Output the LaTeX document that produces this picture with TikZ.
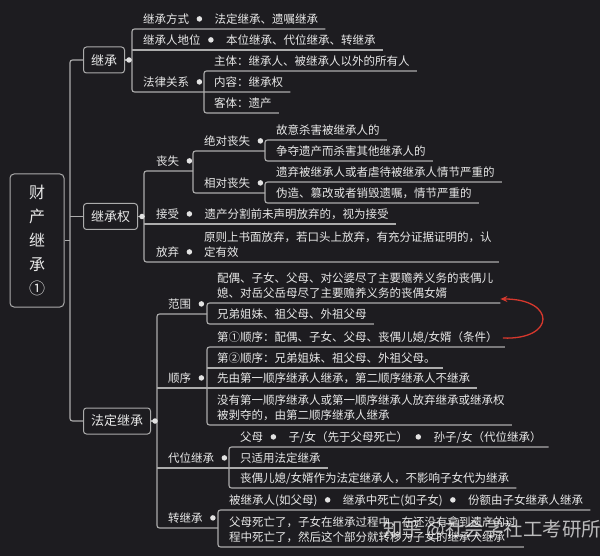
\documentclass[tikz,border=0pt]{standalone}
\usepackage{fontspec}
\setmainfont{Noto Sans CJK SC}
\usetikzlibrary{arrows.meta}
\definecolor{bgc}{RGB}{29,28,32}
\definecolor{linec}{RGB}{172,172,172}
\definecolor{txtc}{RGB}{232,232,232}
\definecolor{dotc}{RGB}{226,226,226}
\definecolor{arrowred}{RGB}{214,56,45}

\begin{document}
\begin{tikzpicture}[x=1pt, y=-1pt,
	conn/.style={draw=linec, line width=1.1pt},
	elbow/.style={conn, rounded corners=2.5pt},
	topic/.style={draw=linec, line width=1pt, rounded corners=3pt, fill=bgc, text=txtc,
		font=\fontsize{13}{15}\selectfont, inner xsep=7.5pt, minimum height=26pt, anchor=west},
	leaf/.style={anchor=south west, inner xsep=0pt, inner ysep=3pt, text height=9pt,
		text depth=2.5pt, text=txtc, font=\fontsize{11.5}{15}\selectfont},
	leaftwo/.style={anchor=south west, inner xsep=0pt, inner ysep=3pt, text depth=2.5pt,
		align=left, text=txtc, font=\fontsize{11.5}{15}\selectfont},
	dot/.style={circle, fill=dotc, inner sep=0pt, minimum size=5.5pt}]
	\fill[bgc] (0,0) rectangle (600,556);
	\useasboundingbox (0,0) rectangle (600,556);

	\node[draw=linec, line width=1pt, rounded corners=4pt, fill=bgc, text=txtc,
		minimum width=54pt, minimum height=133pt, align=center,
		font=\fontsize{16}{24.2}\selectfont] (root) at (37,240.5) {财\\产\\继\\承\\①};
	\node[topic] (jc) at (83,60) {继承};
	\node[topic] (jcq) at (83,216.5) {继承权};
	\node[topic] (fd) at (83,421) {法定继承};

	\node[leaf] (fs) at (143,29) {继承方式};
	\node[leaf] (fs1) at ([xshift=25pt]fs.south east) {法定继承、遗嘱继承};
	\node[leaf] (rdw) at (143,50) {继承人地位};
	\node[leaf] (rdw1) at ([xshift=25pt]rdw.south east) {本位继承、代位继承、转继承};
	\node[leaf] (fl) at (143,92) {法律关系};
	\node[leaf] (fl1) at (214,71) {主体：继承人、被继承人以外的所有人};
	\node[leaf] (fl2) at (214,92) {内容：继承权};
	\node[leaf] (fl3) at (214,113) {客体：遗产};

	\node[leaf] (ss) at (156,171) {丧失};
	\node[leaf] (jd) at (204,151) {绝对丧失};
	\node[leaf] (jd1) at (276,140) {故意杀害被继承人的};
	\node[leaf] (jd2) at (276,161) {争夺遗产而杀害其他继承人的};
	\node[leaf] (xd) at (204,193) {相对丧失};
	\node[leaf] (xd1) at (276,182) {遗弃被继承人或者虐待被继承人情节严重的};
	\node[leaf] (xd2) at (276,203) {伪造、篡改或者销毁遗嘱，情节严重的};
	\node[leaf] (js) at (156,224) {接受};
	\node[leaf] (js1) at ([xshift=25pt]js.south east) {遗产分割前未声明放弃的，视为接受};
	\node[leaf] (fq) at (156,262) {放弃};
	\node[leaftwo] (fq1) at (204,262) {原则上书面放弃，若口头上放弃，有充分证据证明的，认\\定有效};

	\node[leaf] (fw) at (168,314) {范围};
	\node[leaftwo] (fw1) at (217,303) {配偶、子女、父母、对公婆尽了主要赡养义务的丧偶儿\\媳、对岳父岳母尽了主要赡养义务的丧偶女婿};
	\node[leaf] (fw2) at (217,324) {兄弟姐妹、祖父母、外祖父母};
	\node[leaf] (sx) at (168,388) {顺序};
	\node[leaf] (sx1) at (217,347) {第①顺序：配偶、子女、父母、丧偶儿媳/女婿（条件）};
	\node[leaf] (sx2) at (217,368) {第②顺序：兄弟姐妹、祖父母、外祖父母。};
	\node[leaf] (sx3) at (217,388) {先由第一顺序继承人继承，第二顺序继承人不继承};
	\node[leaftwo] (sx4) at (217,425) {没有第一顺序继承人或第一顺序继承人放弃继承或继承权\\被剥夺的，由第二顺序继承人继承};
	\node[leaf] (dw) at (168,468) {代位继承};
	\node[leaf] (dw1) at (240,447) {父母};
	\node[leaf] (dw2) at ([xshift=25pt]dw1.south east) {子/女（先于父母死亡）};
	\node[leaf] (dw3) at ([xshift=25pt]dw2.south east) {孙子/女（代位继承）};
	\node[leaf] (dw4) at (240,468) {只适用法定继承};
	\node[leaf] (dw5) at (240,488) {丧偶儿媳/女婿作为法定继承人，不影响子女代为继承};
	\node[leaf] (zj) at (168,528) {转继承};
	\node[leaf] (zj1) at (229,510) {被继承人(如父母)};
	\node[leaf] (zj2) at ([xshift=25pt]zj1.south east) {继承中死亡(如子女)};
	\node[leaf] (zj3) at ([xshift=25pt]zj2.south east) {份额由子女继承人继承};
	\node[leaftwo] (zj4) at (229,547) {父母死亡了，子女在继承过程中，在还没有拿到遗产的过\\程中死亡了，然后这个部分就转移为子女的继承人继承};

	\draw[conn] (root.east) -- (70,240.5);
	\draw[elbow] (jc.west) -- (70,60) -- (70,421) -- (fd.west);
	\draw[conn] (70,216.5) -- (jcq.west);

	\draw[conn] (jc.east) -- (132,60);
	\draw[elbow] ([xshift=7pt]fs1.south east) -- (132,29) -- (132,92) -- ([xshift=7pt]fl2.south east);
	\draw[conn] (132,50) -- ([xshift=7pt]rdw1.south east);
	\draw[elbow] ([xshift=7pt]fl1.south east) -- (204,71) -- (204,113) -- ([xshift=7pt]fl3.south east);

	\draw[conn] (jcq.east) -- (144,216.5);
	\draw[elbow] (193,171) -- (144,171) -- (144,262) -- ([xshift=7pt]fq1.south east);
	\draw[conn] (144,224) -- ([xshift=7pt]js1.south east);
	\draw[elbow] (265,151) -- (193,151) -- (193,193) -- (265,193);
	\draw[elbow] ([xshift=7pt]jd1.south east) -- (265,140) -- (265,161) -- ([xshift=7pt]jd2.south east);
	\draw[elbow] ([xshift=7pt]xd1.south east) -- (265,182) -- (265,203) -- ([xshift=7pt]xd2.south east);

	\draw[conn] (fd.east) -- (157,421);
	\draw[elbow] (207,314) -- (157,314) -- (157,528) -- (218,528);
	\draw[conn] (157,388) -- (207,388);
	\draw[conn] (157,468) -- (229,468);
	\draw[elbow] ([xshift=7pt]fw1.south east) -- (207,303) -- (207,324) -- ([xshift=7pt]fw2.south east);
	\draw[elbow] ([xshift=7pt]sx1.south east) -- (207,347) -- (207,425) -- ([xshift=7pt]sx4.south east);
	\draw[conn] (207,368) -- ([xshift=7pt]sx2.south east);
	\draw[conn] (207,388) -- ([xshift=7pt]sx3.south east);
	\draw[elbow] ([xshift=7pt]dw3.south east) -- (229,447) -- (229,488) -- ([xshift=7pt]dw5.south east);
	\draw[conn] (229,468) -- ([xshift=7pt]dw4.south east);
	\draw[elbow] ([xshift=7pt]zj3.south east) -- (218,510) -- (218,547) -- ([xshift=7pt]zj4.south east);

	\foreach \n in {jc,jcq,fd}
		\node[dot] at ([xshift=4pt]\n.east) {};
	\foreach \n in {fs,rdw,fl,ss,jd,xd,js,fq,fw,sx,dw,zj,dw1,dw2,zj1,zj2}
		\node[dot] at ([xshift=10pt,yshift=4.4pt]\n.base east) {};

	\draw[arrowred, line width=1.3pt, -{Stealth[length=7pt,width=6pt]}]
		([xshift=5pt]sx1.east) .. controls (556,340) and (556,299) .. ([xshift=7pt,yshift=4pt]fw1.south east);

	\node[anchor=west, inner sep=0pt, text=white, opacity=0.7,
		font=\fontsize{19.5}{22}\selectfont] (mark) at (383,530) {知乎 @社会学社工考研所};
\end{tikzpicture}
\end{document}
